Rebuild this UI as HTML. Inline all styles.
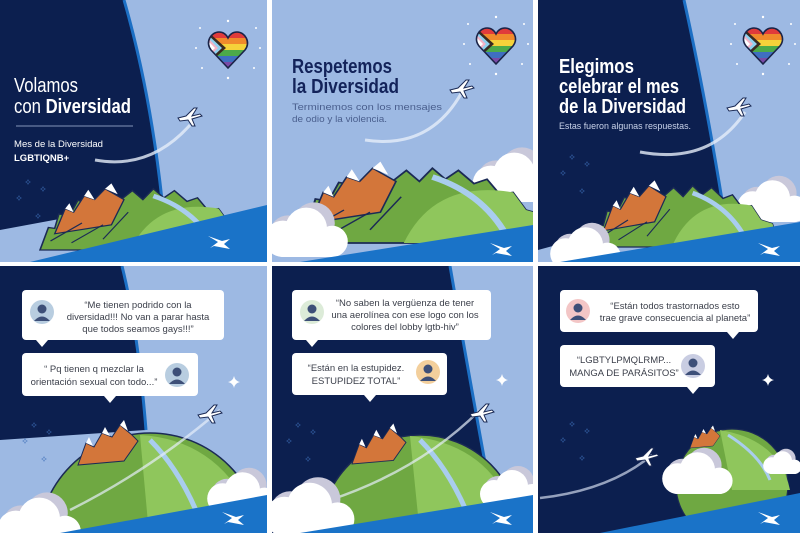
<!DOCTYPE html>
<html><head><meta charset="utf-8"><style>
html,body{margin:0;padding:0;background:#fff;width:800px;height:533px;overflow:hidden;}
svg{display:block;}
text{font-family:"Liberation Sans",sans-serif;}
</style></head><body>
<svg width="800" height="533" viewBox="0 0 800 533" xmlns="http://www.w3.org/2000/svg">
<defs>
  <clipPath id="c1"><rect x="0" y="0" width="267" height="262"/></clipPath>
  <clipPath id="c2"><rect x="272" y="0" width="261" height="262"/></clipPath>
  <clipPath id="c3"><rect x="538" y="0" width="262" height="262"/></clipPath>
  <clipPath id="c4"><rect x="0" y="266" width="267" height="267"/></clipPath>
  <clipPath id="c5"><rect x="272" y="266" width="261" height="267"/></clipPath>
  <clipPath id="c6"><rect x="538" y="266" width="262" height="267"/></clipPath>
  <clipPath id="hc"><path d="M20,36 L3,18 C-3,10 3,0 11,0 C15,0 18,2 20,6 C22,2 25,0 29,0 C37,0 43,10 37,18 Z"/></clipPath>
  <g id="heart">
    <g clip-path="url(#hc)">
      <rect x="-2" y="0" width="46" height="6" fill="#e03b3b"/>
      <rect x="-2" y="6" width="46" height="6" fill="#f08a2c"/>
      <rect x="-2" y="12" width="46" height="6" fill="#f5d23a"/>
      <rect x="-2" y="18" width="46" height="6" fill="#4caa4a"/>
      <rect x="-2" y="24" width="46" height="6" fill="#3f6fc0"/>
      <rect x="-2" y="30" width="46" height="6" fill="#7a4aa6"/>
      <path d="M-2,-2 L18,16 L-2,34 Z" fill="#3a2a20"/>
      <path d="M-2,1 L14,16 L-2,31 Z" fill="#8fd0ee"/>
      <path d="M-2,4 L10,16 L-2,28 Z" fill="#f3b3c6"/>
      <path d="M-2,7 L7,16 L-2,25 Z" fill="#ffffff"/>
    </g>
    <path d="M20,36 L3,18 C-3,10 3,0 11,0 C15,0 18,2 20,6 C22,2 25,0 29,0 C37,0 43,10 37,18 Z" fill="none" stroke="#1b2448" stroke-width="1.6"/>
    <g fill="#fff"><circle cx="20" cy="-11" r="1.2"/><circle cx="-8" cy="-4" r="1"/><circle cx="48" cy="-4" r="1"/><circle cx="-12" cy="16" r="1"/><circle cx="52" cy="16" r="1"/><circle cx="-6" cy="36" r="1"/><circle cx="46" cy="36" r="1"/><circle cx="20" cy="46" r="1.2"/></g>
  </g>
  <g id="plane">
    <path d="M0,10 L8,8 L16,0 L19,0 L14,8 L22,6 L24,8 L14,11 L17,18 L14,18 L10,12 L2,13 Z" fill="#fff" stroke="#1b2a55" stroke-width="1"/>
  </g>
  <g id="logo"><path d="M0,0 L14,5 L22,3 L16,8 L22,13 L6,10 L2,12 L10,6 Z" fill="#fff"/></g>
  <g id="hill">
    <path d="M0,80 L8,55 L14,56 L18,40 L28,42 L36,25 L50,28 L60,16 L75,26 L88,14 L98,24 L108,12 L118,22 L128,14 L140,26 L150,22 L160,36 L170,34 L180,50 L192,54 L200,80 Z" fill="#6fa842" stroke="#1b2a55" stroke-width="1.5"/>
    <path d="M86,80 Q110,22 170,34 L180,50 L192,54 L200,80 Z" fill="#8fc65c"/>
    <path d="M108,20 Q150,36 168,80" fill="none" stroke="#a9cdee" stroke-width="5"/>
    <path d="M14,62 L24,34 L32,38 L42,20 L52,24 L62,12 L80,24 L68,52 Z" fill="#d3763a" stroke="#1b2a55" stroke-width="1.3"/>
    <path d="M24,34 L28,28 L32,38Z M42,20 L46,13 L52,24Z M62,12 L68,6 L74,18Z" fill="#fff"/>
    <path d="M10,70 L40,50 M30,72 L60,52 M60,68 L84,38" stroke="#1b2a55" stroke-width="1.2" fill="none"/>
  </g>
  <g id="mtn">
    <path d="M0,40 L8,18 L16,22 L24,8 L34,12 L42,0 L54,10 L60,16 L46,36 Z" fill="#d3763a" stroke="#1b2a55" stroke-width="1"/>
    <path d="M8,18 L11,12 L15,21Z M24,8 L27,2 L32,11Z M42,0 L46,-5 L50,6Z" fill="#fff"/>
  </g>
  <g id="cloud">
    <circle cx="20" cy="22" r="14" fill="#c9c8da"/><circle cx="40" cy="14" r="16" fill="#c9c8da"/>
    <circle cx="16" cy="26" r="14" fill="#fff"/><circle cx="34" cy="18" r="16" fill="#fff"/><circle cx="54" cy="28" r="12" fill="#fff"/>
    <rect x="10" y="28" width="50" height="12" rx="6" fill="#fff"/>
  </g>
  <g id="person"><circle cx="0" cy="0" r="12"/><circle cx="0" cy="-3" r="4.5" fill="#3d4f78"/><path d="M-8,9 Q0,0 8,9 Z" fill="#3d4f78"/></g>
  <g id="spark"><path d="M0,-6 Q1,-1 6,0 Q1,1 0,6 Q-1,1 -6,0 Q-1,-1 0,-6Z" fill="#fff"/></g>
  <g id="stars" fill="#3d6fb8"><path d="M0,-3 L1,0 L0,3 L-1,0Z M-3,0 L0,1 L3,0 L0,-1Z"/><path transform="translate(15,7)" d="M0,-3 L1,0 L0,3 L-1,0Z M-3,0 L0,1 L3,0 L0,-1Z"/><path transform="translate(-9,16)" d="M0,-3 L1,0 L0,3 L-1,0Z M-3,0 L0,1 L3,0 L0,-1Z"/><path transform="translate(10,34)" d="M0,-3 L1,0 L0,3 L-1,0Z M-3,0 L0,1 L3,0 L0,-1Z"/></g>
</defs>

<!-- Panel 1 -->
<g clip-path="url(#c1)">
  <rect x="0" y="0" width="267" height="262" fill="#9db9e3"/>
  <path d="M0,0 L124,0 Q150,90 162,200 L0,230 Z" fill="#0c1f4f"/>
  <path d="M124,0 Q150,90 162,200" fill="none" stroke="#1c6fc4" stroke-width="3"/>
  <use href="#stars" transform="translate(28,182)"/>
  <path d="M95,160 Q150,170 190,125" fill="none" stroke="#e6eef9" stroke-width="3" opacity="0.8"/>
  <use href="#plane" transform="translate(178,108)"/>
  <use href="#heart" transform="translate(208,32)"/>
  <use href="#hill" transform="translate(40,178) scale(1.05,0.9)"/>
  <path d="M30,262 L267,205 L267,262 Z" fill="#1a73c8"/>
  <use href="#logo" transform="translate(208,236)"/>
  <text x="14" y="92" font-size="20" fill="#fff" textLength="64" lengthAdjust="spacingAndGlyphs">Volamos</text>
  <text x="14" y="113" font-size="20" fill="#fff" textLength="117" lengthAdjust="spacingAndGlyphs">con <tspan font-weight="bold">Diversidad</tspan></text>
  <line x1="16" y1="126" x2="133" y2="126" stroke="#8594b8" stroke-width="1"/>
  <text x="14" y="147" font-size="9.5" fill="#fff" textLength="89" lengthAdjust="spacingAndGlyphs">Mes de la Diversidad</text>
  <text x="14" y="161" font-size="9.5" font-weight="bold" fill="#fff">LGBTIQNB+</text>
</g>

<!-- Panel 2 -->
<g clip-path="url(#c2)">
  <rect x="272" y="0" width="261" height="262" fill="#9db9e3"/>
  <path d="M365,140 Q430,150 462,92" fill="none" stroke="#e6eef9" stroke-width="3" opacity="0.8"/>
  <use href="#plane" transform="translate(450,80)"/>
  <use href="#heart" transform="translate(476,28)"/>
  <use href="#cloud" transform="translate(470,150) scale(1.3)"/>
  <use href="#hill" transform="translate(292,155) scale(1.3,1.1)"/>
  <use href="#cloud" transform="translate(262,205) scale(1.3)"/>
  <path d="M300,262 L533,225 L533,262 Z" fill="#1a73c8"/>
  <use href="#logo" transform="translate(490,243)"/>
  <text x="292" y="73" font-size="20" font-weight="bold" fill="#13235a" textLength="100" lengthAdjust="spacingAndGlyphs">Respetemos</text>
  <text x="292" y="93" font-size="20" font-weight="bold" fill="#13235a" textLength="107" lengthAdjust="spacingAndGlyphs">la Diversidad</text>
  <text x="292" y="110" font-size="9.5" fill="#4a5f8e" textLength="150" lengthAdjust="spacingAndGlyphs">Terminemos con los mensajes</text>
  <text x="292" y="122" font-size="9.5" fill="#4a5f8e" textLength="95" lengthAdjust="spacingAndGlyphs">de odio y la violencia.</text>
</g>

<!-- Panel 3 -->
<g clip-path="url(#c3)">
  <rect x="538" y="0" width="262" height="262" fill="#9db9e3"/>
  <path d="M538,0 L684,0 Q704,90 722,200 L538,250 Z" fill="#0c1f4f"/>
  <path d="M684,0 Q704,90 722,200" fill="none" stroke="#1c6fc4" stroke-width="3"/>
  <use href="#stars" transform="translate(572,157)"/>
  <path d="M640,152 Q710,165 745,112" fill="none" stroke="#e6eef9" stroke-width="3" opacity="0.8"/>
  <use href="#plane" transform="translate(727,98)"/>
  <use href="#heart" transform="translate(743,28)"/>
  <use href="#cloud" transform="translate(735,178) scale(1.1)"/>
  <use href="#hill" transform="translate(590,175) scale(0.95,0.9)"/>
  <use href="#cloud" transform="translate(548,225) scale(1.1)"/>
  <path d="M560,262 L800,222 L800,262 Z" fill="#1a73c8"/>
  <use href="#logo" transform="translate(758,243)"/>
  <text x="559" y="73" font-size="20" font-weight="bold" fill="#fff" textLength="75" lengthAdjust="spacingAndGlyphs">Elegimos</text>
  <text x="559" y="93" font-size="20" font-weight="bold" fill="#fff" textLength="120" lengthAdjust="spacingAndGlyphs">celebrar el mes</text>
  <text x="559" y="113" font-size="20" font-weight="bold" fill="#fff" textLength="127" lengthAdjust="spacingAndGlyphs">de la Diversidad</text>
  <text x="559" y="129" font-size="9.5" fill="#c9d3ea" textLength="132" lengthAdjust="spacingAndGlyphs">Estas fueron algunas respuestas.</text>
</g>

<!-- Panel 4 -->
<g clip-path="url(#c4)">
  <rect x="0" y="266" width="267" height="267" fill="#9db9e3"/>
  <path d="M0,266 L122,266 Q138,330 146,430 L0,440 Z" fill="#0c1f4f"/>
  <path d="M122,266 Q138,330 146,430" fill="none" stroke="#1c6fc4" stroke-width="3"/>
  <use href="#stars" transform="translate(34,425)"/>
  <use href="#spark" transform="translate(234,382)"/>
  <circle cx="150" cy="545" r="112" fill="#6fa842" stroke="#1b2a55" stroke-width="1.5"/>
  <path d="M140,435 Q230,440 262,540 L150,545 Z" fill="#8fc65c"/>
  <path d="M150,440 Q180,470 200,520" fill="none" stroke="#a9cdee" stroke-width="5"/>
  <path d="M70,510 Q150,470 220,410" fill="none" stroke="#e6eef9" stroke-width="2.5" opacity="0.7"/>
  <use href="#plane" transform="translate(198,405)"/>
  <use href="#mtn" transform="translate(78,425)"/>
  <use href="#cloud" transform="translate(205,470) scale(1.1)"/>
  <use href="#cloud" transform="translate(-5,495) scale(1.3)"/>
  <path d="M60,533 L267,495 L267,533 Z" fill="#1a73c8"/>
  <use href="#logo" transform="translate(222,512)"/>
  <rect x="22" y="290" width="202" height="50" rx="4" fill="#fff"/>
  <path d="M36,340 L42,347 L48,340Z" fill="#fff"/>
  <use href="#person" transform="translate(42,312)" fill="#b8cde0"/>
  <text font-size="9.5" fill="#3b3f4a" text-anchor="middle"><tspan x="138" y="308">“Me tienen podrido con la</tspan><tspan x="138" y="320">diversidad!!! No van a parar hasta</tspan><tspan x="138" y="332">que todos seamos gays!!!”</tspan></text>
  <rect x="22" y="353" width="176" height="43" rx="4" fill="#fff"/>
  <path d="M104,396 L110,403 L116,396Z" fill="#fff"/>
  <use href="#person" transform="translate(177,375)" fill="#b8cde0"/>
  <text font-size="9.5" fill="#3b3f4a" text-anchor="middle"><tspan x="94" y="372">“ Pq tienen q mezclar la</tspan><tspan x="94" y="385">orientación sexual con todo...”</tspan></text>
</g>

<!-- Panel 5 -->
<g clip-path="url(#c5)">
  <rect x="272" y="266" width="261" height="267" fill="#9db9e3"/>
  <path d="M272,266 L450,266 Q468,370 490,490 L272,533 Z" fill="#0c1f4f"/>
  <path d="M450,266 Q468,370 490,490" fill="none" stroke="#1c6fc4" stroke-width="3"/>
  <use href="#stars" transform="translate(298,425)"/>
  <use href="#spark" transform="translate(502,380)"/>
  <circle cx="420" cy="535" r="100" fill="#6fa842" stroke="#1b2a55" stroke-width="1.5"/>
  <path d="M410,436 Q500,445 520,535 L420,535 Z" fill="#8fc65c"/>
  <path d="M420,440 Q450,470 470,520" fill="none" stroke="#a9cdee" stroke-width="5"/>
  <path d="M330,500 Q420,470 480,410" fill="none" stroke="#e6eef9" stroke-width="2.5" opacity="0.7"/>
  <use href="#plane" transform="translate(470,404)"/>
  <use href="#mtn" transform="translate(352,428) scale(0.9)"/>
  <use href="#cloud" transform="translate(478,468)"/>
  <use href="#cloud" transform="translate(262,480) scale(1.4)"/>
  <path d="M300,533 L533,495 L533,533 Z" fill="#1a73c8"/>
  <use href="#logo" transform="translate(490,512)"/>
  <rect x="292" y="290" width="199" height="50" rx="4" fill="#fff"/>
  <path d="M306,340 L312,347 L318,340Z" fill="#fff"/>
  <use href="#person" transform="translate(312,312)" fill="#dcebd8"/>
  <text font-size="9.5" fill="#3b3f4a" text-anchor="middle"><tspan x="405" y="306">“No saben la vergüenza de tener</tspan><tspan x="405" y="318">una aerolínea con ese logo con los</tspan><tspan x="405" y="330">colores del lobby lgtb-hiv”</tspan></text>
  <rect x="292" y="353" width="155" height="42" rx="4" fill="#fff"/>
  <path d="M364,395 L370,402 L376,395Z" fill="#fff"/>
  <use href="#person" transform="translate(428,372)" fill="#f3cf9c"/>
  <text font-size="9.5" fill="#3b3f4a" text-anchor="middle"><tspan x="356" y="371">“Están en la estupidez.</tspan><tspan x="356" y="384">ESTUPIDEZ TOTAL”</tspan></text>
</g>

<!-- Panel 6 -->
<g clip-path="url(#c6)">
  <rect x="538" y="266" width="262" height="267" fill="#0c1f4f"/>
  <use href="#stars" transform="translate(572,424)"/>
  <use href="#spark" transform="translate(768,380)"/>
  <path d="M540,498 Q610,490 652,455" fill="none" stroke="#b8c2d8" stroke-width="2.5" opacity="0.8"/>
  <use href="#plane" transform="translate(635,448)"/>
  <circle cx="732" cy="485" r="56" fill="#6fa842" stroke="#1b2a55" stroke-width="1.2"/>
  <path d="M720,430 Q780,440 790,490 L732,490 Z" fill="#8fc65c"/>
  <path d="M728,435 Q760,455 770,480" fill="none" stroke="#a9cdee" stroke-width="3"/>
  <use href="#mtn" transform="translate(690,428) scale(0.5)"/>
  <use href="#cloud" transform="translate(762,450) scale(0.6)"/>
  <use href="#cloud" transform="translate(660,450) scale(1.1)"/>
  <path d="M600,533 L800,493 L800,533 Z" fill="#1a73c8"/>
  <use href="#logo" transform="translate(758,512)"/>
  <rect x="560" y="290" width="198" height="42" rx="4" fill="#fff"/>
  <path d="M727,332 L733,339 L739,332Z" fill="#fff"/>
  <use href="#person" transform="translate(578,311)" fill="#f3c6c6"/>
  <text font-size="9.5" fill="#3b3f4a" text-anchor="middle"><tspan x="675" y="309">“Están todos trastornados esto</tspan><tspan x="675" y="321">trae grave consecuencia al planeta”</tspan></text>
  <rect x="560" y="345" width="155" height="42" rx="4" fill="#fff"/>
  <path d="M687,387 L693,394 L699,387Z" fill="#fff"/>
  <use href="#person" transform="translate(693,366)" fill="#c9cde2"/>
  <text font-size="9.5" fill="#3b3f4a" text-anchor="middle"><tspan x="624" y="363">“LGBTYLPMQLRMP...</tspan><tspan x="624" y="376">MANGA DE PARÁSITOS”</tspan></text>
</g>
</svg>
</body></html>
